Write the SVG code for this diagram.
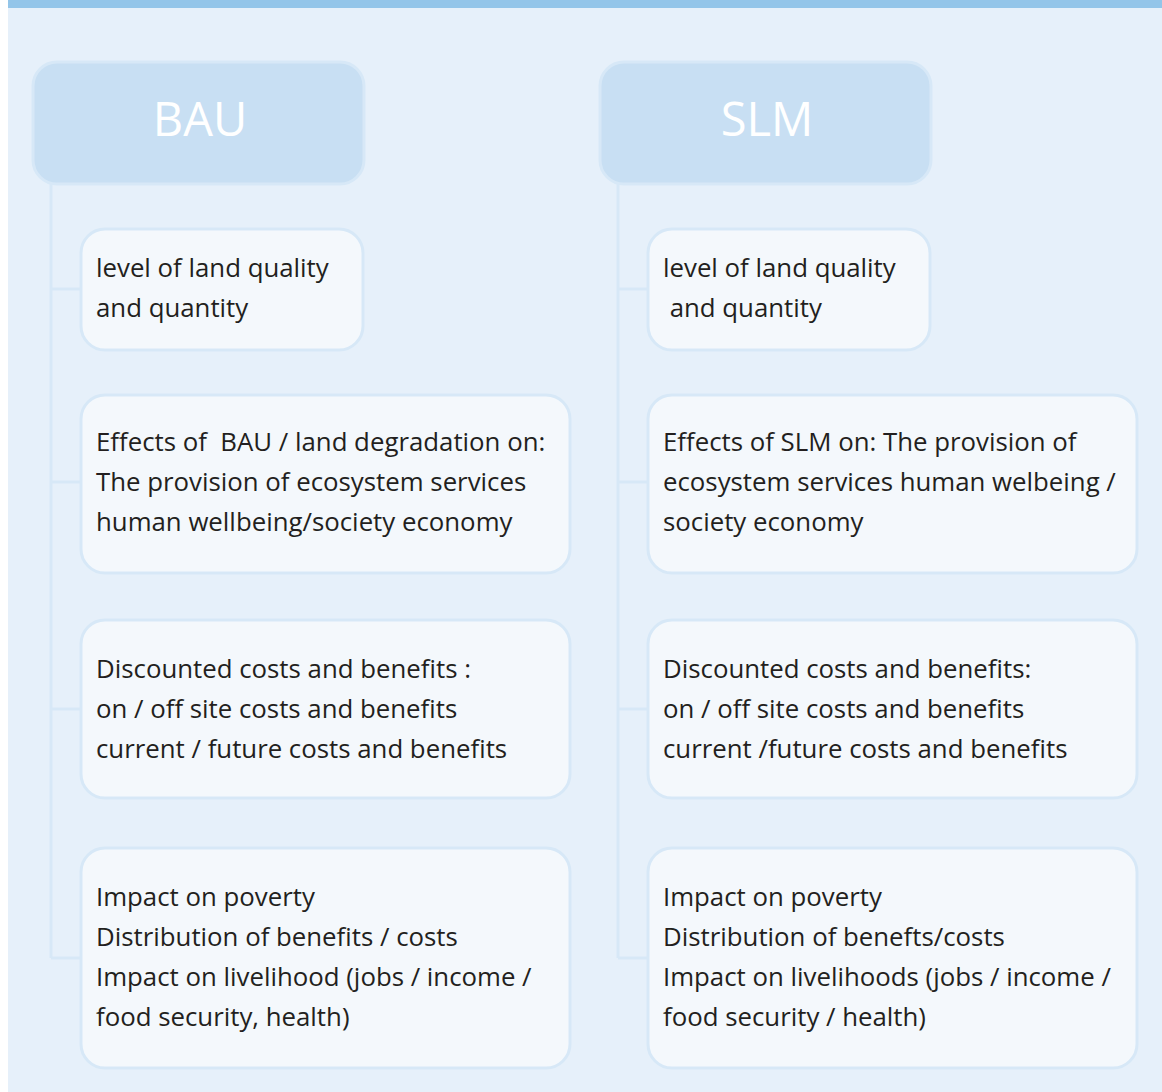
<svg xmlns="http://www.w3.org/2000/svg" width="1162" height="1092" viewBox="0 0 1162 1092">
<style>
.bg{fill:#E6F0FA}
.bar{fill:#93C5E9}
.hdr{fill:#C8DFF3;stroke:#D7E8F7;stroke-width:3}
.box{fill:#F4F8FC;stroke:#D7E8F7;stroke-width:3}
.conn{fill:none;stroke:#D7E8F7;stroke-width:3}
.ht{font-family:"Open Sans","Noto Sans",sans-serif;font-size:47px;fill:#FFFFFF;text-anchor:middle}
.t{font-family:"Open Sans","Noto Sans",sans-serif;font-size:25.8px;fill:#231F20;white-space:pre}
</style>
<rect x="0" y="0" width="1162" height="1092" fill="#FFFFFF"/>
<rect class="bg" x="8" y="0" width="1154" height="1092"/>
<rect class="bar" x="8" y="0" width="1154" height="8"/>
<g id="connectors">
<path class="conn" d="M51 184 V958 M51 289 H81 M51 482 H81 M51 709 H81 M51 958 H81"/>
<path class="conn" d="M618 184 V958 M618 289 H648 M618 482 H648 M618 709 H648 M618 958 H648"/>
</g>
<g id="bau">
<rect class="hdr" x="33" y="62" width="331" height="122" rx="24"/>
<text class="ht" x="200" y="136">BAU</text>
</g>
<g id="slm">
<rect class="hdr" x="600" y="62" width="331" height="122" rx="24"/>
<text class="ht" x="767" y="136">SLM</text>
</g>
<g id="bau1">
<rect class="box" x="81" y="229" width="282" height="121" rx="24"/>
<text class="t" x="96" y="277">level of land quality</text>
<text class="t" x="96" y="317">and quantity</text>
</g>
<g id="bau2">
<rect class="box" x="81" y="395" width="489" height="178" rx="24"/>
<text class="t" x="96" y="451">Effects of  BAU / land degradation on:</text>
<text class="t" x="96" y="491">The provision of ecosystem services</text>
<text class="t" x="96" y="531">human wellbeing/society economy</text>
</g>
<g id="bau3">
<rect class="box" x="81" y="620" width="489" height="178" rx="24"/>
<text class="t" x="96" y="678">Discounted costs and benefits :</text>
<text class="t" x="96" y="718">on / off site costs and benefits</text>
<text class="t" x="96" y="758">current / future costs and benefits</text>
</g>
<g id="bau4">
<rect class="box" x="81" y="848" width="489" height="220" rx="24"/>
<text class="t" x="96" y="906">Impact on poverty</text>
<text class="t" x="96" y="946">Distribution of benefits / costs</text>
<text class="t" x="96" y="986">Impact on livelihood (jobs / income /</text>
<text class="t" x="96" y="1026">food security, health)</text>
</g>
<g id="slm1">
<rect class="box" x="648" y="229" width="282" height="121" rx="24"/>
<text class="t" x="663" y="277">level of land quality</text>
<text class="t" x="663" y="317"> and quantity</text>
</g>
<g id="slm2">
<rect class="box" x="648" y="395" width="489" height="178" rx="24"/>
<text class="t" x="663" y="451">Effects of SLM on: The provision of</text>
<text class="t" x="663" y="491">ecosystem services human welbeing /</text>
<text class="t" x="663" y="531">society economy</text>
</g>
<g id="slm3">
<rect class="box" x="648" y="620" width="489" height="178" rx="24"/>
<text class="t" x="663" y="678">Discounted costs and benefits:</text>
<text class="t" x="663" y="718">on / off site costs and benefits</text>
<text class="t" x="663" y="758">current /future costs and benefits</text>
</g>
<g id="slm4">
<rect class="box" x="648" y="848" width="489" height="220" rx="24"/>
<text class="t" x="663" y="906">Impact on poverty</text>
<text class="t" x="663" y="946">Distribution of benefts/costs</text>
<text class="t" x="663" y="986">Impact on livelihoods (jobs / income /</text>
<text class="t" x="663" y="1026">food security / health)</text>
</g>
</svg>
